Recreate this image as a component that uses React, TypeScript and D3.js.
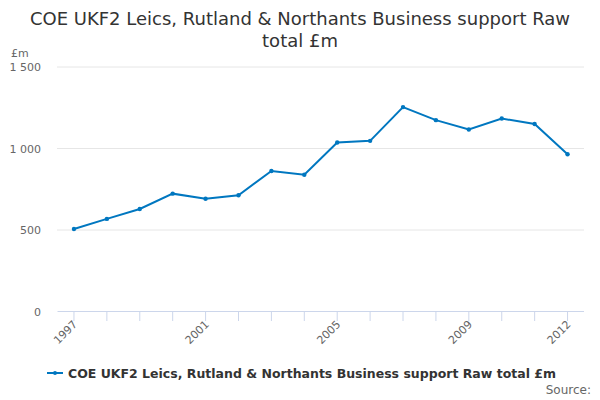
import { line, scaleLinear, scalePoint } from "d3";

const years = [
  "1997", "1998", "1999", "2000", "2001", "2002", "2003", "2004",
  "2005", "2006", "2007", "2008", "2009", "2010", "2011", "2012",
];
const values = [
  506, 568, 629, 723, 692, 713, 862, 839, 1037, 1047, 1254, 1174, 1117, 1184, 1150, 965,
];
const yTicks = [0, 500, 1000, 1500];
const xLabels = ["1997", "2001", "2005", "2009", "2012"];
const seriesName = "COE UKF2 Leics, Rutland & Northants Business support Raw total £m";

const App = () => {
  const width = 600;
  const height = 400;
  const font = "DejaVu Sans, sans-serif";

  const xScale = scalePoint().domain(years).range([57.5, 584]).padding(0.5);
  const yScale = scaleLinear().domain([0, 1500]).range([311.5, 67]);

  const path = line<number>()
    .x((_, i) => xScale(years[i]))
    .y((d) => yScale(d))(values);

  const fmt = (v: number) => (v >= 1000 ? `${Math.floor(v / 1000)} ${String(v % 1000).padStart(3, "0")}` : `${v}`);

  return (
    <svg
      width={width}
      height={height}
      style={{ position: "absolute", left: 0, top: 0, fontFamily: font, background: "#fff" }}
    >
      <text x={300} y={25} textAnchor="middle" fontSize={18} fill="#333">
        COE UKF2 Leics, Rutland &amp; Northants Business support Raw
      </text>
      <text x={300} y={47} textAnchor="middle" fontSize={18} fill="#333">
        total £m
      </text>
      <text x={11} y={57} fontSize={11} fill="#666">£m</text>

      {yTicks.map((t) =>
        t > 0 ? (
          <line key={`g${t}`} x1={57} x2={584} y1={yScale(t)} y2={yScale(t)} stroke="#e6e6e6" />
        ) : null
      )}
      {yTicks.map((t) => (
        <text key={`y${t}`} x={41} y={yScale(t) + 4} textAnchor="end" fontSize={11} fill="#666">
          {fmt(t)}
        </text>
      ))}

      <line x1={57.5} x2={584} y1={311.5} y2={311.5} stroke="#ccd6eb" />
      {years.map((yr) => (
        <line key={`t${yr}`} x1={xScale(yr)} x2={xScale(yr)} y1={311.5} y2={321} stroke="#ccd6eb" />
      ))}
      {xLabels.map((yr) => (
        <text
          key={`x${yr}`}
          transform={`translate(${xScale(yr) + 4}, ${325}) rotate(-45)`}
          textAnchor="end"
          fontSize={11}
          fill="#666"
        >
          {yr}
        </text>
      ))}

      <path d={path ?? ""} fill="none" stroke="#0077c0" strokeWidth={2} />
      {values.map((v, i) => (
        <circle key={`p${i}`} cx={xScale(years[i])} cy={yScale(v)} r={2.2} fill="#0077c0" />
      ))}

      <line x1={47} x2={63} y1={373} y2={373} stroke="#0077c0" strokeWidth={2} />
      <circle cx={55} cy={373} r={2} fill="#0077c0" />
      <text x={68} y={377.5} fontSize={12.5} fontWeight="bold" fill="#333">
        {seriesName}
      </text>
      <text x={591} y={394} textAnchor="end" fontSize={12} fill="#666">
        Source:
      </text>
    </svg>
  );
};

export default App;
